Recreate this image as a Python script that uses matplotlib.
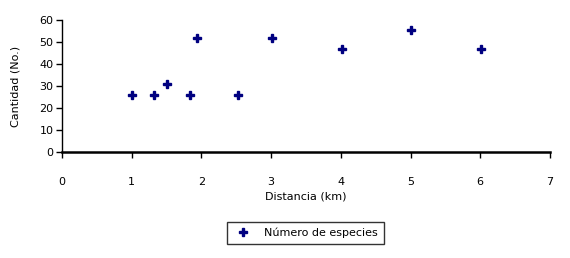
import matplotlib
matplotlib.use('Agg')
import matplotlib.pyplot as plt

# datos
distancia = [1.01, 1.32, 1.51, 1.83, 1.93, 2.52, 3.01, 4.01, 5.01, 6.01]
especies = [26, 26, 31, 26, 52, 26, 52, 47, 55.5, 47]
x_ticks = [0, 1, 2, 3, 4, 5, 6, 7]
y_ticks = [0, 10, 20, 30, 40, 50, 60]

plt.rcParams['font.family'] = ['DejaVu Sans']
fig = plt.figure(figsize=(5.7, 2.58), dpi=100)
ax = fig.add_axes([0.1088, 0.411, 0.856, 0.511])

ax.plot(distancia, especies, linestyle='none', marker='P', color='#000080',
        markersize=5.5, label='Número de especies')

ax.set_xlim(0, 7)
ax.set_ylim(0, 60)
ax.set_xticks(x_ticks)
ax.set_yticks(y_ticks)
ax.tick_params(axis='x', direction='out', length=4, width=1, pad=14, labelsize=8)
ax.tick_params(axis='y', direction='out', length=4, width=1, pad=2, labelsize=8)

ax.spines['top'].set_visible(False)
ax.spines['right'].set_visible(False)
ax.spines['left'].set_linewidth(1)
ax.spines['bottom'].set_linewidth(1.8)

ax.set_xlabel('Distancia (km)', fontsize=8, labelpad=3)
ax.set_ylabel('Cantidad (No.)', fontsize=8, labelpad=14)

leg = ax.legend(loc='center', bbox_to_anchor=(0.499, -0.615), fontsize=8,
                frameon=True, fancybox=False, edgecolor='black',
                borderpad=0.55, handletextpad=1.0, handlelength=1.8,
                borderaxespad=0)
leg.get_frame().set_linewidth(1)

fig.savefig('out.png', dpi=100)
